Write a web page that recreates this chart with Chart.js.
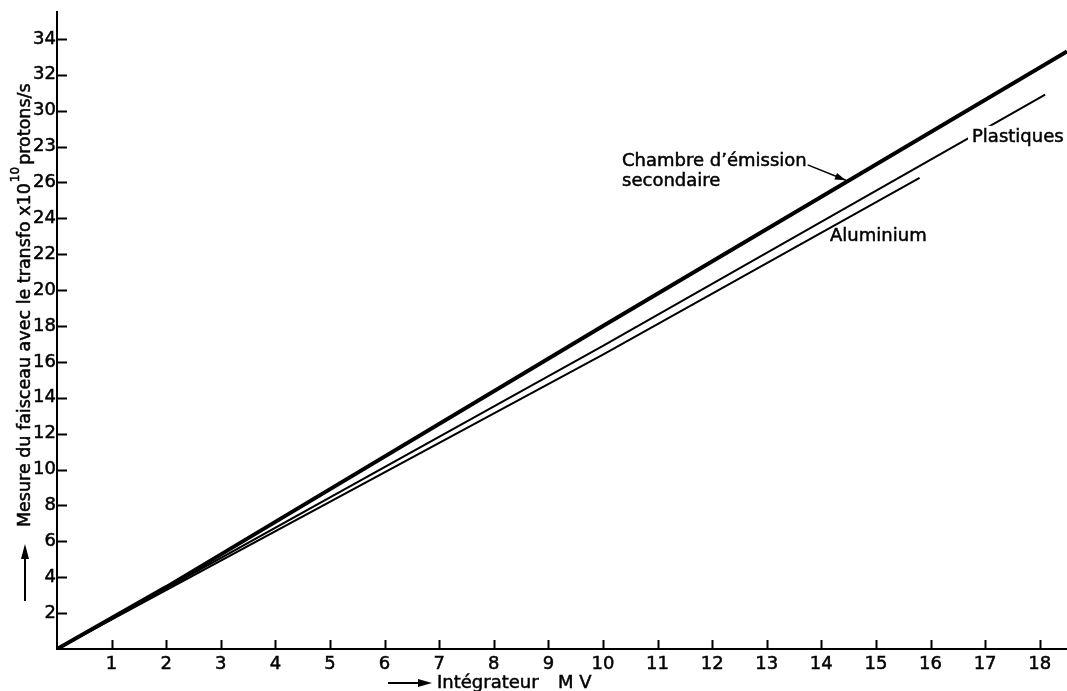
<!DOCTYPE html>
<html>
<head>
<meta charset="utf-8">
<script src="https://cdn.jsdelivr.net/npm/chart.js@4/dist/chart.umd.min.js"></script>
<style>
  html, body { margin: 0; padding: 0; background: #fff; }
  #wrap { width: 1067px; height: 691px; position: relative; }
</style>
</head>
<body>
<div id="wrap"><canvas id="c" width="1067" height="691"></canvas></div>
<script>
// ---- data ----
const xTickValues = [1,2,3,4,5,6,7,8,9,10,11,12,13,14,15,16,17,18];
const xTickLabels = ['1','2','3','4','5','6','7','8','9','10','11','12','13','14','15','16','17','18'];
const yTickValues = [2,4,6,8,10,12,14,16,18,20,22,24,26,28,30,32,34];
const yTickLabels = ['2','4','6','8','10','12','14','16','18','20','22','24','26','23','30','32','34'];

const chambreX = [0, 2, 10, 18.5];
const chambreY = [0, 3.45, 18.0, 33.3];
const plastiquesX = [0, 10, 18.1];
const plastiquesY = [0, 16.9, 30.9];
const aluminiumX = [0, 10, 15.8];
const aluminiumY = [0, 16.4, 26.25];

const xTitleA = 'Intégrateur';
const xTitleB = 'M V';
const yTitleMain = 'Mesure du faisceau avec le transfo x10';
const yTitleSup = '10';
const yTitleEnd = 'protons/s';
const labelChambre1 = 'Chambre d\u2019émission';
const labelChambre2 = 'secondaire';
const labelPlastiques = 'Plastiques';
const labelAluminium = 'Aluminium';

const FONT = '"DejaVu Sans", "Liberation Sans", sans-serif';
const TXT_STROKE = 0.5;

function pts(xs, ys) { return xs.map((x, i) => ({x: x, y: ys[i]})); }

function text(ctx, s, x, y) {
  ctx.lineWidth = TXT_STROKE;
  ctx.strokeText(s, x, y);
  ctx.fillText(s, x, y);
}

const decor = {
  id: 'decor',
  afterDraw(chart) {
    const ctx = chart.ctx;
    const xs = chart.scales.x, ys = chart.scales.y;
    const ca = chart.chartArea;
    ctx.save();
    ctx.strokeStyle = '#000';
    ctx.fillStyle = '#000';
    ctx.lineWidth = 2;
    // inward tick marks
    ctx.beginPath();
    xTickValues.forEach(v => {
      const p = Math.round(xs.getPixelForValue(v)) + 0.5;
      ctx.moveTo(p, ca.bottom); ctx.lineTo(p, ca.bottom - 9);
    });
    yTickValues.forEach(v => {
      const p = Math.round(ys.getPixelForValue(v)) + 0.5;
      ctx.moveTo(ca.left, p); ctx.lineTo(ca.left + 10, p);
    });
    ctx.stroke();

    // axis titles
    ctx.font = '18px ' + FONT;
    ctx.textBaseline = 'middle';
    ctx.textAlign = 'left';
    // x title with arrow
    const yx = 683;
    ctx.lineWidth = 2;
    ctx.beginPath(); ctx.moveTo(388, yx); ctx.lineTo(422, yx); ctx.stroke();
    ctx.beginPath(); ctx.moveTo(432, yx); ctx.lineTo(418, yx - 4); ctx.lineTo(418, yx + 4); ctx.closePath(); ctx.fill();
    text(ctx, xTitleA, 437, yx);
    text(ctx, xTitleB, 558, yx);

    // y title rotated
    ctx.save();
    ctx.translate(25, 0);
    ctx.rotate(-Math.PI / 2);
    ctx.lineWidth = 2;
    ctx.beginPath(); ctx.moveTo(-601, 0); ctx.lineTo(-556, 0); ctx.stroke();
    ctx.beginPath(); ctx.moveTo(-544, 0); ctx.lineTo(-559, -4); ctx.lineTo(-559, 4); ctx.closePath(); ctx.fill();
    let tx = -527;
    ctx.font = '17.5px ' + FONT;
    text(ctx, yTitleMain, tx, 0);
    tx += ctx.measureText(yTitleMain).width + 1;
    ctx.font = '12px ' + FONT;
    text(ctx, yTitleSup, tx, -9);
    tx += ctx.measureText(yTitleSup).width + 2;
    ctx.font = '17.5px ' + FONT;
    text(ctx, yTitleEnd, tx, 0);
    ctx.restore();

    // in-plot labels
    ctx.font = '18px ' + FONT;
    ctx.textBaseline = 'middle';
    const px = v => xs.getPixelForValue(v), py = v => ys.getPixelForValue(v);
    text(ctx, labelChambre1, px(10.35), py(27.2));
    text(ctx, labelChambre2, px(10.35), py(26.05));
    // leader arrow
    const ax1 = px(13.75), ay1 = py(26.98), ax2 = px(14.45), ay2 = py(26.12);
    ctx.lineWidth = 1.5;
    ctx.beginPath(); ctx.moveTo(ax1, ay1); ctx.lineTo(ax2, ay2); ctx.stroke();
    const ang = Math.atan2(ay2 - ay1, ax2 - ax1);
    ctx.beginPath();
    ctx.moveTo(ax2, ay2);
    ctx.lineTo(ax2 - 11 * Math.cos(ang) + 3.5 * Math.sin(ang), ay2 - 11 * Math.sin(ang) - 3.5 * Math.cos(ang));
    ctx.lineTo(ax2 - 11 * Math.cos(ang) - 3.5 * Math.sin(ang), ay2 - 11 * Math.sin(ang) + 3.5 * Math.cos(ang));
    ctx.closePath(); ctx.fill();

    // Plastiques with white gap behind
    const plx = px(16.76), ply = py(28.54);
    const w = ctx.measureText(labelPlastiques).width;
    ctx.fillStyle = '#fff';
    ctx.fillRect(plx - 4, ply - 11, w + 8, 22);
    ctx.fillStyle = '#000';
    text(ctx, labelPlastiques, plx, ply);
    text(ctx, labelAluminium, px(14.16), py(23.02));
    ctx.restore();
  }
};

new Chart(document.getElementById('c'), {
  type: 'scatter',
  data: {
    datasets: [
      { label: labelChambre1 + ' ' + labelChambre2, data: pts(chambreX, chambreY), showLine: true,
        borderColor: '#000', borderWidth: 4, pointRadius: 0, tension: 0 },
      { label: labelPlastiques, data: pts(plastiquesX, plastiquesY), showLine: true,
        borderColor: '#000', borderWidth: 2, pointRadius: 0, tension: 0 },
      { label: labelAluminium, data: pts(aluminiumX, aluminiumY), showLine: true,
        borderColor: '#000', borderWidth: 2, pointRadius: 0, tension: 0 }
    ]
  },
  options: {
    responsive: false,
    animation: false,
    layout: { padding: { top: 12, right: 0, left: 0, bottom: 0 } },
    plugins: { legend: { display: false }, tooltip: { enabled: false } },
    scales: {
      x: {
        type: 'linear', min: 0, max: 18.5,
        afterBuildTicks: s => { s.ticks = xTickValues.map(v => ({ value: v })); },
        afterFit: s => { s.height = 42; },
        grid: { display: true, drawOnChartArea: false, drawTicks: false },
        border: { display: true, color: '#000', width: 2 },
        ticks: {
          color: '#000', font: { family: FONT, size: 18 }, padding: 5, maxRotation: 0,
          autoSkip: false, textStrokeColor: '#000', textStrokeWidth: TXT_STROKE,
          callback: (v) => { const i = xTickValues.indexOf(v); return i >= 0 ? xTickLabels[i] : ''; }
        }
      },
      y: {
        type: 'linear', min: 0, max: 35.5,
        afterBuildTicks: s => { s.ticks = yTickValues.map(v => ({ value: v })); },
        afterFit: s => { s.width = 57; },
        grid: { display: true, drawOnChartArea: false, drawTicks: false },
        border: { display: true, color: '#000', width: 2 },
        ticks: {
          color: '#000', font: { family: FONT, size: 18 }, padding: 1,
          autoSkip: false, textStrokeColor: '#000', textStrokeWidth: TXT_STROKE,
          callback: (v) => { const i = yTickValues.indexOf(v); return i >= 0 ? yTickLabels[i] : ''; }
        }
      }
    }
  },
  plugins: [decor]
});
</script>
</body>
</html>
